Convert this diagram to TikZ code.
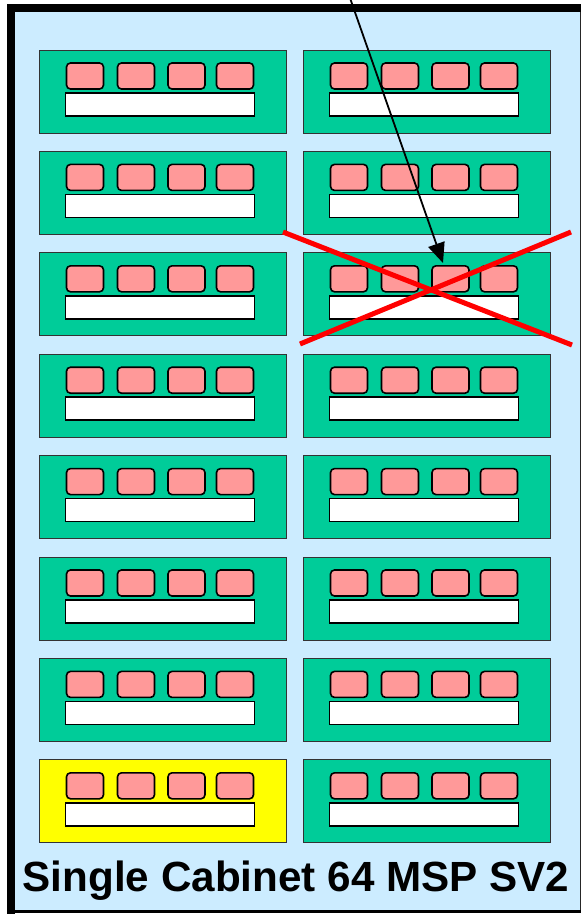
\documentclass[tikz,border=0pt]{standalone}
\usepackage{fontspec}
\setmainfont{Liberation Sans}
\usetikzlibrary{arrows.meta}
\definecolor{cabblue}{RGB}{204,236,255}
\definecolor{modgreen}{RGB}{0,204,153}
\definecolor{modyellow}{RGB}{255,255,0}
\definecolor{chippink}{RGB}{255,153,153}
\begin{document}
\begin{tikzpicture}[x=1pt,y=-1pt,
  module/.style={draw=black!80, line width=1pt, minimum width=247pt, minimum height=83pt, inner sep=0pt, outer sep=0pt, anchor=north west},
  chip/.style={draw=black, fill=chippink, line width=1.6pt, rounded corners=4pt, minimum width=37pt, minimum height=26pt, inner sep=0pt, outer sep=0pt, anchor=north west},
  bar/.style={draw=black, fill=white, line width=1.6pt, minimum width=189pt, minimum height=23pt, inner sep=0pt, outer sep=0pt, anchor=north west},
  cross/.style={draw=red, line width=5pt},
  pointer/.style={draw=black, line width=1.8pt, -{Triangle[length=20pt,width=17pt]}},
  title/.style={font=\bfseries\fontsize{42.2}{48}\selectfont, anchor=base, inner sep=0pt}
]
\useasboundingbox (0,0) rectangle (582,914);
% cabinet
\fill[cabblue] (14,11) rectangle (580,911);
\draw[black!85, line width=1.2pt] (14,11) rectangle (580.5,911);
\fill[black] (7,4) rectangle (581,12);
\fill[black] (7,4) rectangle (15,914);
\fill[black] (7,910) rectangle (581,913);
% modules
\foreach \r in {0,...,7}{
  \foreach \c in {0,1}{
    \pgfmathsetmacro\xx{39+264*\c}
    \pgfmathsetmacro\yy{50+101.4*\r}
    \def\mfill{modgreen}
    \ifnum\r=7 \ifnum\c=0 \def\mfill{modyellow}\fi\fi
    \node[module, fill=\mfill] (m\r\c) at (\xx,\yy) {};
    \node[chip] (m\r\c a) at ({\xx+27.5},{\yy+13}) {};
    \node[chip] (m\r\c b) at ({\xx+78.5},{\yy+13}) {};
    \node[chip] (m\r\c c) at ({\xx+129},{\yy+13}) {};
    \node[chip] (m\r\c d) at ({\xx+177.5},{\yy+13}) {};
    \node[bar] (m\r\c bar) at ({\xx+26.5},{\yy+43}) {};
  }
}
% red cross
\coordinate (xa1) at (283,232);
\coordinate (xa2) at (572,345);
\coordinate (xb1) at (300,344);
\coordinate (xb2) at (571,232);
\draw[cross] (xa1) -- (xa2);
\draw[cross] (xb1) -- (xb2);
% pointer arrow
\coordinate (src) at (350,-2);
\coordinate (tgt) at (443,263);
\draw[pointer] (src) -- (tgt);
% title
\node[title] (label) at (296,891) {Single Cabinet 64 MSP SV2};
\end{tikzpicture}
\end{document}
